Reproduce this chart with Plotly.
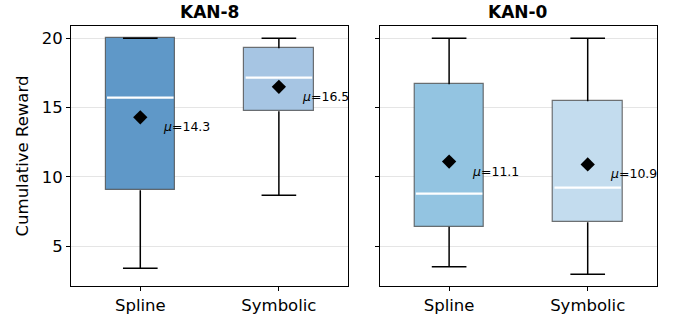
import plotly.graph_objects as go
from plotly.subplots import make_subplots

panels = ["KAN-8", "KAN-0"]
categories = ["Spline", "Symbolic"]
positions = [0, 1]

# per panel: [Spline, Symbolic]
q1 = {"KAN-8": [9.03, 14.73], "KAN-0": [6.40, 6.73]}
median = {"KAN-8": [15.72, 17.16], "KAN-0": [8.79, 9.22]}
q3 = {"KAN-8": [20.0, 19.28], "KAN-0": [16.69, 15.45]}
lower_whisker = {"KAN-8": [3.41, 8.67], "KAN-0": [3.51, 2.96]}
upper_whisker = {"KAN-8": [20.0, 20.0], "KAN-0": [20.0, 20.0]}
means = {"KAN-8": [14.3, 16.5], "KAN-0": [11.1, 10.9]}

colors = {"KAN-8": ["#5f98c8", "#a6c5e3"], "KAN-0": ["#93c4e1", "#c3dcee"]}

BOX_W = 0.5
CAP_W = 0.25

fig = make_subplots(rows=1, cols=2, shared_yaxes=True, horizontal_spacing=0.054,
                    subplot_titles=panels)

for ci, p in enumerate(panels, start=1):
    # whiskers and caps
    wx, wy = [], []
    for i, x in enumerate(positions):
        wx += [x, x, None, x, x, None]
        wy += [q3[p][i], upper_whisker[p][i], None, q1[p][i], lower_whisker[p][i], None]
        wx += [x - CAP_W / 2, x + CAP_W / 2, None, x - CAP_W / 2, x + CAP_W / 2, None]
        wy += [upper_whisker[p][i], upper_whisker[p][i], None,
               lower_whisker[p][i], lower_whisker[p][i], None]
    fig.add_trace(go.Scatter(x=wx, y=wy, mode="lines",
                             line=dict(color="black", width=1.5),
                             showlegend=False, hoverinfo="skip"), row=1, col=ci)
    # boxes
    fig.add_trace(go.Bar(x=positions,
                         y=[q3[p][i] - q1[p][i] for i in range(2)],
                         base=q1[p], width=BOX_W,
                         marker=dict(color=colors[p],
                                     line=dict(color="rgba(70,70,70,0.75)", width=1.2)),
                         showlegend=False), row=1, col=ci)
    # medians
    mx, my = [], []
    for i, x in enumerate(positions):
        mx += [x - BOX_W / 2 + 0.01, x + BOX_W / 2 - 0.01, None]
        my += [median[p][i], median[p][i], None]
    fig.add_trace(go.Scatter(x=mx, y=my, mode="lines",
                             line=dict(color="white", width=2.2),
                             showlegend=False, hoverinfo="skip"), row=1, col=ci)
    # means
    fig.add_trace(go.Scatter(x=positions, y=means[p], mode="markers",
                             marker=dict(symbol="diamond", color="black", size=11),
                             showlegend=False), row=1, col=ci)
    xref = "x" if ci == 1 else "x2"
    yref = "y" if ci == 1 else "y2"
    for i, x in enumerate(positions):
        fig.add_annotation(x=x + 0.15, y=means[p][i], xref=xref, yref=yref,
                           text=f"<i>μ</i>={means[p][i]:.1f}", showarrow=False,
                           xanchor="left", yanchor="top",
                           font=dict(size=12.5, color="black", family="DejaVu Sans"))

axis_common = dict(showline=True, linecolor="black", linewidth=1, mirror=True,
                   ticks="outside", ticklen=4, tickcolor="black", tickwidth=1,
                   automargin=False)

for ci in (1, 2):
    fig.update_xaxes(range=[-0.5, 1.5], tickvals=positions, ticktext=categories,
                     showgrid=False, zeroline=False,
                     tickfont=dict(size=16.5, color="black"), row=1, col=ci, **axis_common)
    fig.update_yaxes(range=[2.12, 20.89], tickvals=[5, 10, 15, 20],
                     showgrid=True, gridcolor="rgba(0,0,0,0.1)", gridwidth=1,
                     zeroline=False, tickfont=dict(size=16.5, color="black"),
                     row=1, col=ci, **axis_common)

fig.update_yaxes(title=dict(text="Cumulative Reward", font=dict(size=16.5, color="black"),
                            standoff=8), row=1, col=1)
fig.update_yaxes(showticklabels=False, row=1, col=2)

for a in fig.layout.annotations[:2]:
    a.font = dict(size=17, color="black", family="DejaVu Sans")
    a.text = f"<b>{a.text}</b>"
    a.yshift = 2

fig.update_layout(width=673, height=320, margin=dict(l=71, r=16, t=26, b=34),
                  plot_bgcolor="white", paper_bgcolor="white",
                  font=dict(family="DejaVu Sans", color="black"),
                  barmode="overlay", bargap=0)

fig.write_html("out.html")
